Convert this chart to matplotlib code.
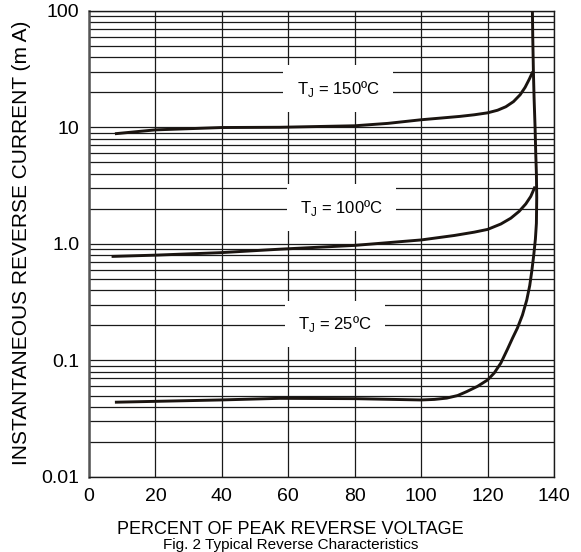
import matplotlib
matplotlib.use("Agg")
import matplotlib.pyplot as plt
from matplotlib.ticker import LogLocator, NullFormatter

plt.rcParams['font.family'] = ['Liberation Sans', 'DejaVu Sans']

# ---- data ----
x_150 = [7.8, 20, 40, 57.5, 80, 90, 100, 106, 111.7, 116, 120, 123, 125.5, 127.8, 129.8, 131.3, 132.6, 133.6]
y_150 = [8.8, 9.5, 9.95, 10.0, 10.3, 10.8, 11.6, 12.0, 12.4, 12.8, 13.3, 14.0, 15.0, 16.6, 19.0, 22.0, 26.0, 30.0]

x_100 = [6.8, 20, 39.5, 57.5, 80, 100, 110, 116, 120, 124, 127, 129.5, 131.5, 133.0, 134.3]
y_100 = [0.78, 0.80, 0.84, 0.90, 0.97, 1.08, 1.18, 1.26, 1.33, 1.48, 1.66, 1.9, 2.2, 2.55, 3.1]

x_25 = [7.8, 39.5, 57.5, 80, 100, 104, 107.7, 111, 113.7, 117, 120, 122, 124, 126, 127.5,
        129, 130.5, 131.8, 132.7, 133.3, 133.9, 134.4, 134.7, 134.8, 134.7, 134.5, 134.3,
        134.0, 133.8, 133.6, 133.5]
y_25 = [0.0438, 0.0458, 0.0473, 0.047, 0.0458, 0.0463, 0.0475, 0.050, 0.054, 0.060, 0.068, 0.078,
        0.095, 0.125, 0.155, 0.19, 0.245, 0.33, 0.44, 0.58, 0.8, 1.1, 1.5, 2.5, 4.0, 6.0, 10.0,
        18.0, 30.0, 60.0, 100.0]

curve_labels = ["T$_\\mathregular{J}$ = 150ºC", "T$_\\mathregular{J}$ = 100ºC", "T$_\\mathregular{J}$ = 25ºC"]
label_x = [75, 76, 74]
label_y = [21.5, 2.05, 0.205]

x_ticks = [0, 20, 40, 60, 80, 100, 120, 140]
y_ticks = [0.01, 0.1, 1.0, 10, 100]
y_ticklabels = ["0.01", "0.1", "1.0", "10", "100"]

x_label = "PERCENT OF PEAK REVERSE VOLTAGE"
y_label = "INSTANTANEOUS REVERSE CURRENT (m A)"
caption = "Fig. 2 Typical Reverse Characteristics"

# ---- figure ----
fig = plt.figure(figsize=(5.81, 5.52), dpi=100)
ax = fig.add_axes([89/581, 1 - 477/552, 465/581, (477 - 10.7)/552])

ax.set_yscale('log')
ax.set_xlim(0, 140)
ax.set_ylim(0.01, 100)

ax.set_xticks(x_ticks)
ax.set_xticklabels([str(v) for v in x_ticks])
ax.set_yticks(y_ticks)
ax.set_yticklabels(y_ticklabels)
ax.yaxis.set_minor_locator(LogLocator(base=10, subs=range(2, 10)))
ax.yaxis.set_minor_formatter(NullFormatter())

ax.tick_params(axis='both', which='both', length=0, labelsize=14)
ax.tick_params(axis='x', pad=8)
ax.tick_params(axis='y', pad=7)

gc = '#1a1a1a'
ax.grid(True, which='major', axis='both', color=gc, lw=0.9)
ax.grid(True, which='minor', axis='y', color=gc, lw=0.9)
ax.set_axisbelow(True)
for s in ax.spines.values():
    s.set_color(gc)
    s.set_linewidth(1.0)
ax.spines['left'].set_color('#555555')
ax.spines['left'].set_linewidth(1.8)

lw = 2.1
ax.plot(x_150, y_150, color='#1a1410', lw=lw, solid_capstyle='butt', solid_joinstyle='round', zorder=3)
ax.plot(x_100, y_100, color='#1a1410', lw=lw, solid_capstyle='butt', solid_joinstyle='round', zorder=3)
ax.plot(x_25, y_25, color='#1a1410', lw=lw, solid_capstyle='butt', solid_joinstyle='round', zorder=3)

for t, lx, ly in zip(curve_labels, label_x, label_y):
    ax.text(lx, ly, t, fontsize=12, ha='center', va='center', zorder=4,
            bbox=dict(boxstyle='square,pad=0.8', facecolor='white', edgecolor='none'))

fig.text(0.5, 1 - 529/552, x_label, ha='center', va='center', fontsize=13)
fig.text(0.5, 1 - 549/552, caption, ha='center', va='baseline', fontsize=11)
fig.text(22/581, 1 - 243/552, y_label, ha='center', va='center', rotation=90, fontsize=15)

fig.savefig('out.png', dpi=100)
